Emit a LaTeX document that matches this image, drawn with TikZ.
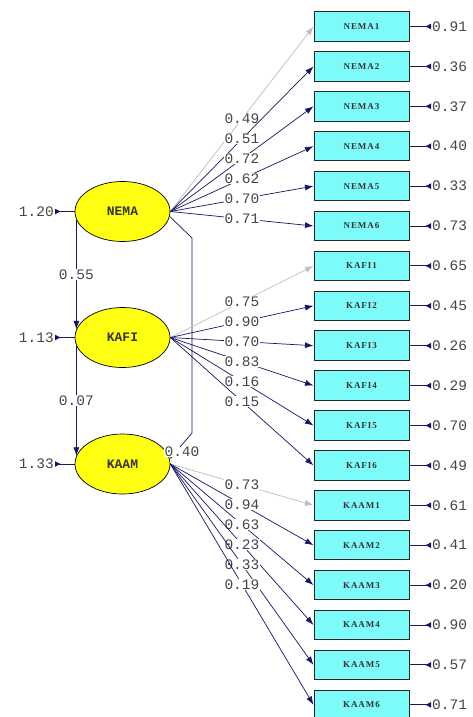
\documentclass[tikz,border=0pt]{standalone}
\usepackage{fontspec}
\setmainfont{Liberation Serif}
\newfontfamily\numfont{Liberation Mono}
\newfontfamily\boxfont[LetterSpace=10]{Liberation Serif}
\usetikzlibrary{arrows.meta,shapes.geometric}
\definecolor{lisnavy}{RGB}{22,22,100}
\definecolor{lisgray}{RGB}{190,190,190}
\definecolor{liscyan}{RGB}{125,250,250}
\definecolor{lisyellow}{RGB}{255,255,20}
\definecolor{numcol}{RGB}{70,70,70}
\begin{document}
\begin{tikzpicture}[x=1pt,y=-1pt,
  obs/.style={draw=black!85, line width=1pt, fill=liscyan, minimum width=95pt, minimum height=29.5pt, inner sep=0pt, font=\boxfont\bfseries\fontsize{9}{10}\selectfont, text=black!80},
  lat/.style={ellipse, draw=black, line width=0.7pt, fill=lisyellow, minimum width=95pt, minimum height=60pt, inner sep=0pt, font=\numfont\bfseries\fontsize{13}{14}\selectfont, text=black!75!yellow!40!black},
  num/.style={font=\numfont\fontsize{14.5}{15}\selectfont, text=numcol, inner sep=1pt},
  lab/.style={num, fill=white, inner sep=0.5pt},
  load/.style={draw=lisnavy, line width=0.7pt, -{Latex[length=8.5pt,width=6pt]}},
  fixload/.style={draw=lisgray, line width=0.7pt, -{Latex[length=8.5pt,width=6pt]}},
  errarr/.style={draw=lisnavy, line width=0.9pt, {Latex[length=6pt,width=6pt,reversed]}-}
]
\useasboundingbox (0,0) rectangle (473,717);
\fill[white] (0,0) rectangle (473,717);

% latent variables
\node[lat] (nema) at (122.5,211.5) {NEMA};
\node[lat] (kafi) at (122.5,337.5) {KAFI};
\node[lat] (kaam) at (122.5,464) {KAAM};

% observed variables and their errors
\foreach \n/\e [count=\i from 0] in {NEMA1/0.91,NEMA2/0.36,NEMA3/0.37,NEMA4/0.40,NEMA5/0.33,NEMA6/0.73,
  KAFI1/0.65,KAFI2/0.45,KAFI3/0.26,KAFI4/0.29,KAFI5/0.70,KAFI6/0.49,
  KAAM1/0.61,KAAM2/0.41,KAAM3/0.20,KAAM4/0.90,KAAM5/0.57,KAAM6/0.71}{
  \node[obs] (o\i) at (361.5,26.5+39.9*\i) {\n};
  \node[num, anchor=west] (e\i) at (431,26.5+39.9*\i) {\e};
  \draw[errarr] (e\i.west) -- (o\i.east);
}

% latent variances
\node[num, anchor=east] (v1) at (55,211.5) {1.20};
\node[num, anchor=east] (v2) at (55,337.5) {1.13};
\node[num, anchor=east] (v3) at (55,464) {1.33};
\draw[errarr] (v1.east) -- (nema.west);
\draw[errarr] (v2.east) -- (kafi.west);
\draw[errarr] (v3.east) -- (kaam.west);

% loadings NEMA
\draw[fixload] (nema.east) -- node[lab]{0.49} (o0.west);
\draw[load] (nema.east) -- node[lab]{0.51} (o1.west);
\draw[load] (nema.east) -- node[lab]{0.72} (o2.west);
\draw[load] (nema.east) -- node[lab]{0.62} (o3.west);
\draw[load] (nema.east) -- node[lab]{0.70} (o4.west);
\draw[load] (nema.east) -- node[lab]{0.71} (o5.west);

% structural paths
\coordinate (b1) at (192,238);
\coordinate (b2) at (192,433);
\draw[load] (nema.-6) -- (b1) -- (b2) -- (kaam.6);
\node[lab] (p3) at (182,452) {0.40};
\draw[load] (nema.190) -- node[lab]{0.55} (kafi.170);
\draw[load] (kafi.190) -- node[lab]{0.07} (kaam.170);

% loadings KAFI
\draw[fixload] (kafi.east) -- node[lab]{0.75} (o6.west);
\draw[load] (kafi.east) -- node[lab]{0.90} (o7.west);
\draw[load] (kafi.east) -- node[lab]{0.70} (o8.west);
\draw[load] (kafi.east) -- node[lab]{0.83} (o9.west);
\draw[load] (kafi.east) -- node[lab]{0.16} (o10.west);
\draw[load] (kafi.east) -- node[lab]{0.15} (o11.west);

% loadings KAAM
\draw[fixload] (kaam.east) -- node[lab]{0.73} (o12.west);
\draw[load] (kaam.east) -- node[lab]{0.94} (o13.west);
\draw[load] (kaam.east) -- node[lab]{0.63} (o14.west);
\draw[load] (kaam.east) -- node[lab]{0.23} (o15.west);
\draw[load] (kaam.east) -- node[lab]{0.33} (o16.west);
\draw[load] (kaam.east) -- node[lab]{0.19} (o17.west);
\end{tikzpicture}
\end{document}
